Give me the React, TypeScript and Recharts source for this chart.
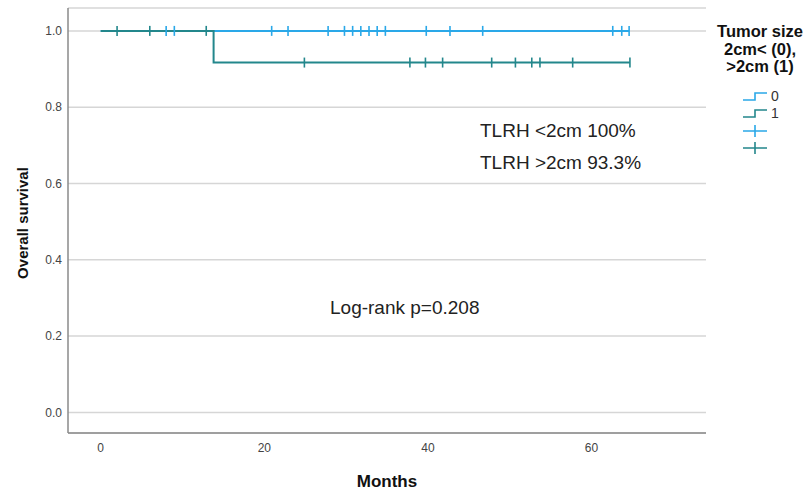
import React from "react"
import {
  ComposedChart,
  Line,
  Scatter,
  XAxis,
  YAxis,
  CartesianGrid,
} from "recharts"

// ── data ──────────────────────────────────────────────────────────────────────
const xTicks = [0, 20, 40, 60]
const yTicks = [0, 0.2, 0.4, 0.6, 0.8, 1.0]

// Kaplan-Meier step points (months, survival)
const curveSmall = [
  { t: 0, s: 1 },
  { t: 64.6, s: 1 },
]
const curveLarge = [
  { t: 0, s: 1 },
  { t: 13.8, s: 0.917 },
  { t: 64.7, s: 0.917 },
]

// censored observations
const censorSmallTimes = [
  8.0, 9.0, 20.9, 22.9, 27.8, 29.8, 30.8, 31.8, 32.8, 33.8, 34.8, 39.8, 42.7,
  46.7, 62.6, 63.7, 64.6,
]
const censorLargeTimes = [2.0, 6.0, 12.9]
const censorLargeTimesAfter = [
  24.9, 37.8, 39.7, 41.8, 47.8, 50.7, 52.7, 53.7, 57.7, 64.7,
]

const censorSmall = censorSmallTimes.map((t) => ({ t, s: 1 }))
const censorLarge = [
  ...censorLargeTimes.map((t) => ({ t, s: 1 })),
  ...censorLargeTimesAfter.map((t) => ({ t, s: 0.917 })),
]

const BLUE = "#2aa8e8"
const TEAL = "#23878c"
const FONT = "'Liberation Sans', Arial, sans-serif"

const tick = (color: string) => (props: any) => {
  const { cx, cy } = props
  return (
    <path
      d={`M${cx},${cy - 5}V${cy + 5}`}
      stroke={color}
      strokeWidth={1.6}
      fill="none"
    />
  )
}

function LegendIcon({ kind, color }: { kind: "step" | "cross"; color: string }) {
  return (
    <svg width={26} height={16} style={{ display: "block" }}>
      {kind === "step" ? (
        <path d="M1,12H13V5H25" stroke={color} strokeWidth={1.6} fill="none" />
      ) : (
        <path d="M1,8H25M13,2V14" stroke={color} strokeWidth={1.6} fill="none" />
      )}
    </svg>
  )
}

export default function App() {
  const annot: React.CSSProperties = {
    position: "absolute",
    fontFamily: FONT,
    fontSize: 19,
    color: "#222",
    whiteSpace: "nowrap",
  }
  return (
    <div
      style={{
        position: "absolute",
        left: 0,
        top: 0,
        width: 811,
        height: 490,
        background: "#fff",
        fontFamily: FONT,
      }}
    >
      <ComposedChart
        width={811}
        height={490}
        margin={{ top: 8, right: 105, bottom: 0, left: 0 }}
      >
        <CartesianGrid
          horizontal
          vertical={false}
          stroke="#d6d6d6"
          strokeWidth={1.5}
        />
        <XAxis
          type="number"
          dataKey="t"
          domain={[-4, 74]}
          ticks={xTicks}
          allowDataOverflow
          height={57}
          tickLine={false}
          tickSize={0}
          tickMargin={10}
          axisLine={{ stroke: "#8a8a8a", strokeWidth: 1.5 }}
          tick={{ fill: "#444", fontSize: 12, fontFamily: FONT }}
          label={{
            value: "Months",
            position: "insideBottom",
            offset: 3,
            style: {
              fontFamily: FONT,
              fontSize: 17,
              fontWeight: "bold",
              fill: "#111",
            },
          }}
        />
        <YAxis
          type="number"
          dataKey="s"
          domain={[-0.054, 1.06]}
          ticks={yTicks}
          allowDataOverflow
          width={68}
          tickLine={false}
          tickSize={0}
          tickMargin={6}
          axisLine={{ stroke: "#8a8a8a", strokeWidth: 1.5 }}
          tickFormatter={(v: number) => v.toFixed(1)}
          tick={{ fill: "#444", fontSize: 12, fontFamily: FONT }}
          label={{
            content: () => (
              <text
                x={22}
                y={223}
                transform="rotate(-90 22 223)"
                textAnchor="middle"
                dominantBaseline="central"
                style={{
                  fontFamily: FONT,
                  fontSize: 15,
                  fontWeight: "bold",
                  fill: "#111",
                }}
              >
                Overall survival
              </text>
            ),
          }}
        />
        <Line
          data={curveSmall}
          dataKey="s"
          type="stepAfter"
          stroke={BLUE}
          strokeWidth={2}
          dot={false}
          activeDot={false}
          isAnimationActive={false}
        />
        <Line
          data={curveLarge}
          dataKey="s"
          type="stepAfter"
          stroke={TEAL}
          strokeWidth={2}
          dot={false}
          activeDot={false}
          isAnimationActive={false}
        />
        <Scatter
          data={censorSmall}
          dataKey="s"
          shape={tick(BLUE)}
          isAnimationActive={false}
        />
        <Scatter
          data={censorLarge}
          dataKey="s"
          shape={tick(TEAL)}
          isAnimationActive={false}
        />
      </ComposedChart>

      <div style={{ ...annot, left: 480, top: 120 }}>TLRH &lt;2cm 100%</div>
      <div style={{ ...annot, left: 480, top: 152 }}>TLRH &gt;2cm 93.3%</div>
      <div style={{ ...annot, left: 330, top: 297 }}>Log-rank p=0.208</div>

      <div
        style={{
          position: "absolute",
          left: 712,
          top: 23,
          width: 96,
          textAlign: "center",
          fontFamily: FONT,
          fontSize: 16.5,
          fontWeight: "bold",
          lineHeight: "17.5px",
          color: "#111",
          whiteSpace: "nowrap",
        }}
      >
        Tumor size
        <br />
        2cm&lt; (0),
        <br />
        &gt;2cm (1)
      </div>
      <div
        style={{
          position: "absolute",
          left: 742,
          top: 87,
          fontFamily: FONT,
          fontSize: 14,
          color: "#333",
        }}
      >
        {[
          { kind: "step" as const, color: BLUE, label: "0" },
          { kind: "step" as const, color: TEAL, label: "1" },
          { kind: "cross" as const, color: BLUE, label: "" },
          { kind: "cross" as const, color: TEAL, label: "" },
        ].map((it, i) => (
          <div
            key={i}
            style={{ display: "flex", alignItems: "center", height: 17.5 }}
          >
            <LegendIcon kind={it.kind} color={it.color} />
            <span style={{ marginLeft: 3 }}>{it.label}</span>
          </div>
        ))}
      </div>
    </div>
  )
}
